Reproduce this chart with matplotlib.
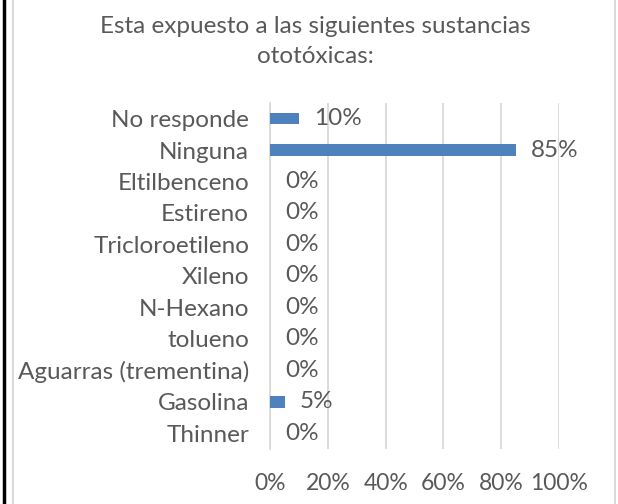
import matplotlib.pyplot as plt
from matplotlib.lines import Line2D

plt.rcParams['font.family'] = ['Lato', 'DejaVu Sans']

categories = ["No responde", "Ninguna", "Eltilbenceno", "Estireno", "Tricloroetileno",
              "Xileno", "N-Hexano", "tolueno", "Aguarras (trementina)", "Gasolina", "Thinner"]
values = [0.10, 0.85, 0, 0, 0, 0, 0, 0, 0, 0.05, 0]
xticks = [0, 0.2, 0.4, 0.6, 0.8, 1.0]
xtick_labels = ["0%", "20%", "40%", "60%", "80%", "100%"]
title = "Esta expuesto a las siguientes sustancias\nototóxicas:"

text_color = "#595959"
bar_color = "#4F81BD"
grid_color = "#D9D9D9"
fs = 17.5

fig = plt.figure(figsize=(6.18, 5.04), dpi=100)
ax = fig.add_axes([0.437, 0.109, 0.4675, 0.687])

pos = list(range(len(categories)))[::-1]
ax.barh(pos, values, height=0.37, color=bar_color, zorder=3)

for p, v in zip(pos, values):
    ax.annotate(f"{v*100:.0f}%", xy=(v, p), xytext=(11, 0), textcoords="offset points",
                va="center", ha="left", fontsize=fs, color=text_color)

ax.set_xlim(0, 1.0)
ax.set_ylim(-0.5, len(categories) - 0.5)
ax.set_xticks(xticks)
ax.set_xticklabels(xtick_labels)
ax.set_yticks(pos)
ax.set_yticklabels(categories)
ax.tick_params(axis="both", length=0, labelsize=fs, labelcolor=text_color)
ax.tick_params(axis="x", pad=17, labelsize=16.5)
ax.tick_params(axis="y", pad=15)
ax.grid(axis="x", color=grid_color, linewidth=1.3, zorder=0)
for s in ["top", "right", "bottom"]:
    ax.spines[s].set_visible(False)
ax.spines["left"].set_color(grid_color)
ax.spines["left"].set_linewidth(1.3)

fig.text(0.51, 0.968, title, ha="center", va="top", fontsize=fs, color=text_color,
         linespacing=1.55)

# page border on the left and chart frame lines
fig.add_artist(Line2D([3.5 / 618, 3.5 / 618], [0, 1], color="black", linewidth=2.5))
fig.add_artist(Line2D([13 / 618, 13 / 618], [0, 1], color="#D9D9D9", linewidth=1.5))
fig.add_artist(Line2D([614.5 / 618, 614.5 / 618], [0, 1], color="#D9D9D9", linewidth=1.5))

fig.savefig("out.png", dpi=100)
